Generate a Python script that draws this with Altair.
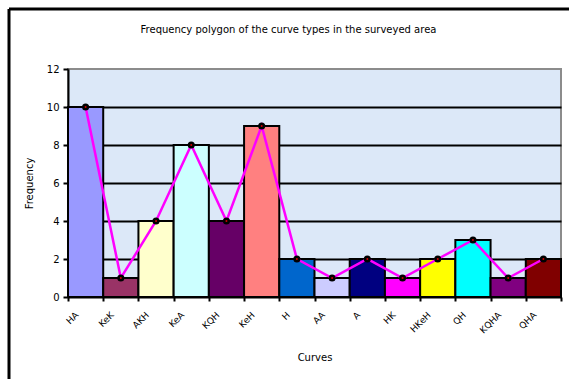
import altair as alt
import pandas as pd

# Curve types and how often each was counted in the survey
curves = ["HA", "KeK", "AKH", "KeA", "KQH", "KeH", "H", "AA", "A", "HK",
          "HKeH", "QH", "KQHA", "QHA"]
frequency = [10, 1, 4, 8, 4, 9, 2, 1, 2, 1, 2, 3, 1, 2]
bar_colors = ["#9999FF", "#993366", "#FFFFCC", "#CCFFFF", "#660066", "#FF8080",
              "#0066CC", "#CCCCFF", "#000080", "#FF00FF", "#FFFF00", "#00FFFF",
              "#800080", "#800000"]
y_ticks = [0, 2, 4, 6, 8, 10, 12]

df = pd.DataFrame({"Curve": curves, "Frequency": frequency})

FONT = "DejaVu Sans"

x_enc = alt.X(
    "Curve:N",
    sort=curves,
    scale=alt.Scale(paddingInner=0, paddingOuter=0),
    axis=alt.Axis(
        title="Curves", labelAngle=-45, labelAlign="right", labelBaseline="middle",
        labelPadding=12, labelOffset=-9, tickBand="extent", tickSize=4, tickWidth=2,
        tickColor="black", domainColor="black", domainWidth=2, titleY=55,
        labelFontSize=9, titleFontSize=10, titleFontWeight="normal",
        labelFont=FONT, titleFont=FONT, labelColor="black", titleColor="black",
    ),
)
y_enc = alt.Y(
    "Frequency:Q",
    scale=alt.Scale(domain=[0, 12], nice=False),
    axis=alt.Axis(
        title="Frequency", values=y_ticks, tickCount=7, labelOverlap=False,
        tickSize=5, tickWidth=2, tickColor="black",
        domainColor="black", domainWidth=2, labelPadding=4, titleX=-34,
        grid=True, gridWidth=2,
        gridColor={"condition": {"test": "datum.value == 12 || datum.value == 0",
                                 "value": "transparent"}, "value": "black"},
        labelFontSize=10, titleFontSize=10, titleFontWeight="normal",
        labelFont=FONT, titleFont=FONT, labelColor="black", titleColor="black",
    ),
)

base = alt.Chart(df)

bars = base.mark_bar(stroke="black", strokeWidth=2).encode(
    x=x_enc,
    y=y_enc,
    color=alt.Color("Curve:N", sort=curves,
                    scale=alt.Scale(domain=curves, range=bar_colors), legend=None),
)

polygon = base.mark_line(color="#FF00FF", strokeWidth=2.5).encode(x=x_enc, y=y_enc)

markers = base.mark_point(filled=True, color="black", size=50, opacity=1).encode(
    x=x_enc, y=y_enc
)
marker_core = base.mark_circle(color="#CC0000", size=4, opacity=1).encode(
    x=x_enc, y=y_enc
)

# Outer frame edges of the chart box
frame_df = pd.DataFrame({"k": [0]})
frame_left = alt.Chart(frame_df).mark_rule(color="black", strokeWidth=3, clip=False).encode(
    x=alt.value(-59), y=alt.value(-60), y2=alt.value(320)
)
frame_top = alt.Chart(frame_df).mark_rule(color="black", strokeWidth=3, clip=False).encode(
    x=alt.value(-59), x2=alt.value(510), y=alt.value(-60)
)

chart = alt.layer(bars, polygon, markers, marker_core, frame_left, frame_top).properties(
    width=493,
    height=228,
    padding={"left": 68, "top": 69, "right": 8, "bottom": 82},
    autosize=alt.AutoSizeParams(type="none"),
    background="white",
    title=alt.TitleParams(
        "Frequency polygon of the curve types in the surveyed area",
        fontSize=10, font=FONT, fontWeight="normal", color="black",
        anchor="middle", dx=-26, offset=-27,
    ),
).configure_view(
    fill="#DCE8F8", stroke="#8C8C8C", strokeWidth=2
)

chart.save("out.html", embed_options={"renderer": "svg", "actions": False})
